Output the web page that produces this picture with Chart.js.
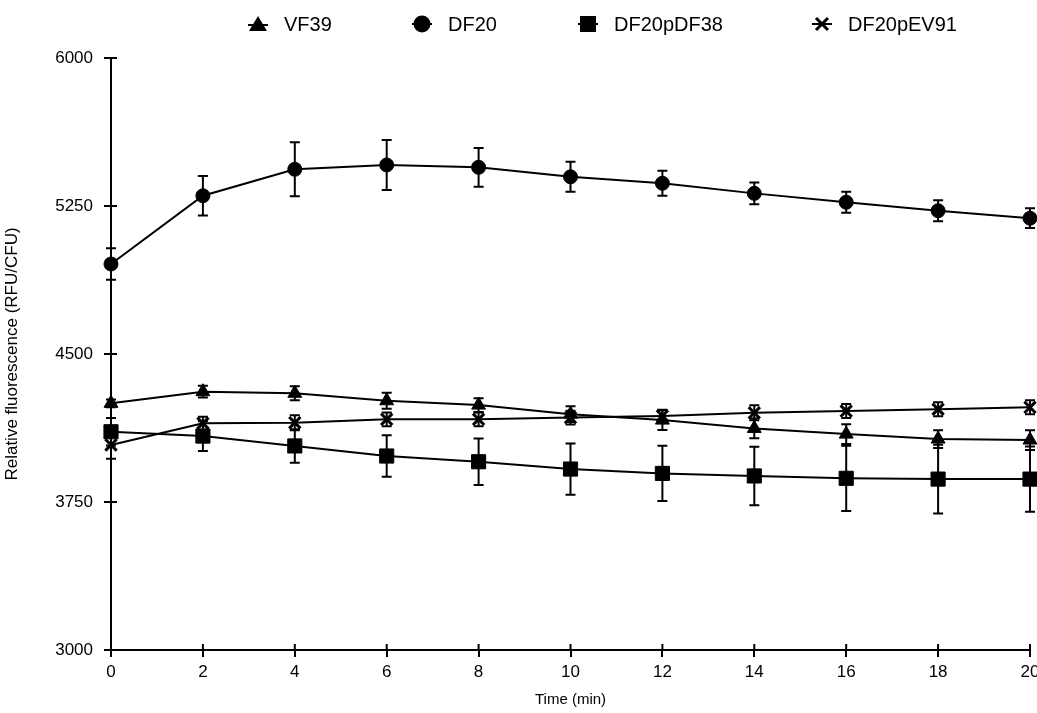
<!DOCTYPE html>
<html>
<head>
<meta charset="UTF-8">
<script src="https://cdn.jsdelivr.net/npm/chart.js@4.4.7/dist/chart.umd.min.js"></script>
<style>
  * { margin: 0; padding: 0; box-sizing: border-box; }
  body { background: #fff; width: 1037px; height: 713px; overflow: hidden; position: relative;
         font-family: 'Liberation Sans', Arial, Helvetica, sans-serif; color: #000; }
  #c { position: absolute; left: 0; top: 0; }
  .legend-item { position: absolute; top: 14px; display: flex; align-items: center; font-size: 20px; line-height: 20px; white-space: nowrap; }
  .legend-item svg { width: 20px; height: 20px; margin-right: 16px; flex-shrink: 0; }
</style>
</head>
<body>
<canvas id="c" width="1037" height="713"></canvas>
<div id="legend"></div>
<script>
const times = [0, 2, 4, 6, 8, 10, 12, 14, 16, 18, 20];
const yTicks = [3000, 3750, 4500, 5250, 6000];

const labels = ['VF39', 'DF20', 'DF20pDF38', 'DF20pEV91'];

const vf39 = [4250, 4309, 4301, 4263, 4241, 4195, 4165, 4123, 4094, 4069, 4064];
const vf39Err = [20, 30, 35, 40, 35, 40, 50, 50, 50, 45, 50];
const df20 = [4956, 5302, 5436, 5458, 5446, 5398, 5365, 5314, 5269, 5226, 5188];
const df20Err = [80, 100, 137, 127, 98, 76, 63, 55, 53, 53, 50];
const df38 = [4106, 4084, 4034, 3983, 3954, 3917, 3895, 3882, 3870, 3866, 3866];
const df38Err = [70, 75, 85, 105, 118, 130, 140, 148, 165, 174, 165];
const ev91 = [4039, 4149, 4152, 4169, 4169, 4178, 4186, 4202, 4211, 4220, 4230];
const ev91Err = [70, 33, 38, 35, 35, 35, 32, 38, 35, 35, 35];

const font = "'Liberation Sans', Arial, Helvetica, sans-serif";

function pts(arr) { return arr.map((v, i) => ({ x: times[i], y: v })); }

function series(label, data, err, style, r) {
  return {
    label: label,
    data: pts(data),
    errors: err,
    borderColor: '#000',
    backgroundColor: '#000',
    borderWidth: 2,
    pointStyle: style,
    pointRadius: r,
    pointBorderWidth: style === 'crossRot' ? 3 : 1,
    pointBackgroundColor: '#000',
    pointBorderColor: '#000',
    tension: 0,
    clip: false,
  };
}

// error bars + inner half of the axis ticks, drawn through the scales
const errorBars = {
  id: 'errorBars',
  beforeDatasetsDraw(chart) {
    const ctx = chart.ctx;
    const xs = chart.scales.x, ys = chart.scales.y;
    ctx.save();
    ctx.strokeStyle = '#000';
    ctx.lineWidth = 2;
    ctx.beginPath();
    xs.ticks.forEach(t => {
      const px = xs.getPixelForValue(t.value);
      ctx.moveTo(px, ys.bottom); ctx.lineTo(px, ys.bottom - 6);
    });
    ys.ticks.forEach(t => {
      const py = ys.getPixelForValue(t.value);
      ctx.moveTo(xs.left, py); ctx.lineTo(xs.left + 6, py);
    });
    ctx.stroke();
    chart.data.datasets.forEach(ds => {
      ds.data.forEach((p, i) => {
        const e = ds.errors[i];
        const px = xs.getPixelForValue(p.x);
        const top = ys.getPixelForValue(p.y + e);
        const bot = ys.getPixelForValue(p.y - e);
        ctx.beginPath();
        ctx.moveTo(px, top); ctx.lineTo(px, bot);
        ctx.moveTo(px - 5, top); ctx.lineTo(px + 5, top);
        ctx.moveTo(px - 5, bot); ctx.lineTo(px + 5, bot);
        ctx.stroke();
      });
    });
    ctx.restore();
  }
};

new Chart(document.getElementById('c'), {
  type: 'line',
  data: {
    datasets: [
      series(labels[0], vf39, vf39Err, 'triangle', 8),
      series(labels[1], df20, df20Err, 'circle', 7),
      series(labels[2], df38, df38Err, 'rect', 10),
      series(labels[3], ev91, ev91Err, 'crossRot', 8),
    ]
  },
  options: {
    responsive: false,
    animation: false,
    layout: { autoPadding: false, padding: { left: 0, right: 7, top: 58, bottom: 0 } },
    plugins: {
      legend: { display: false },
      tooltip: { enabled: false },
    },
    scales: {
      x: {
        type: 'linear',
        min: 0, max: 20,
        ticks: { stepSize: 2, color: '#000', font: { family: font, size: 17 }, padding: 5 },
        grid: { drawOnChartArea: false, color: '#000', tickLength: 7, lineWidth: 2 },
        border: { color: '#000', width: 2 },
        title: { display: true, text: 'Time (min)', color: '#000', font: { family: font, size: 15 }, padding: { top: 5 } },
        afterFit(s) { s.height = 63; s.paddingRight = 0; },
      },
      y: {
        min: 3000, max: 6000,
        afterBuildTicks(s) { s.ticks = yTicks.map(v => ({ value: v })); },
        ticks: { color: '#000', font: { family: font, size: 17 }, padding: 11, callback: v => String(v) },
        grid: { drawOnChartArea: false, color: '#000', tickLength: 7, lineWidth: 2 },
        border: { color: '#000', width: 2 },
        title: { display: true, text: 'Relative fluorescence (RFU/CFU)', color: '#000', font: { family: font, size: 17 }, padding: { top: 2, bottom: 0 } },
        afterFit(s) { s.width = 111; },
      }
    }
  },
  plugins: [errorBars]
});

// legend markers (HTML legend like a custom legend)
const markers = [
  '<path d="M10 2 L19 17 L1 17 Z" fill="#000"/><line x1="0" y1="11" x2="20" y2="11" stroke="#000" stroke-width="2"/>',
  '<circle cx="10" cy="10" r="8.5" fill="#000"/><line x1="0" y1="10" x2="20" y2="10" stroke="#000" stroke-width="2"/>',
  '<rect x="2" y="2" width="16" height="16" fill="#000"/><line x1="0" y1="10" x2="20" y2="10" stroke="#000" stroke-width="2"/>',
  '<path d="M4 4 L16 16 M16 4 L4 16" stroke="#000" stroke-width="3"/><line x1="0" y1="10" x2="20" y2="10" stroke="#000" stroke-width="2"/>',
];
const legendLeft = [248, 412, 578, 812];
const legendEl = document.getElementById('legend');
labels.forEach((label, i) => {
  legendEl.innerHTML += '<div class="legend-item" style="left:' + legendLeft[i] + 'px">' +
    '<svg viewBox="0 0 20 20">' + markers[i] + '</svg>' +
    '<span>' + label + '</span></div>';
});
</script>
</body>
</html>
